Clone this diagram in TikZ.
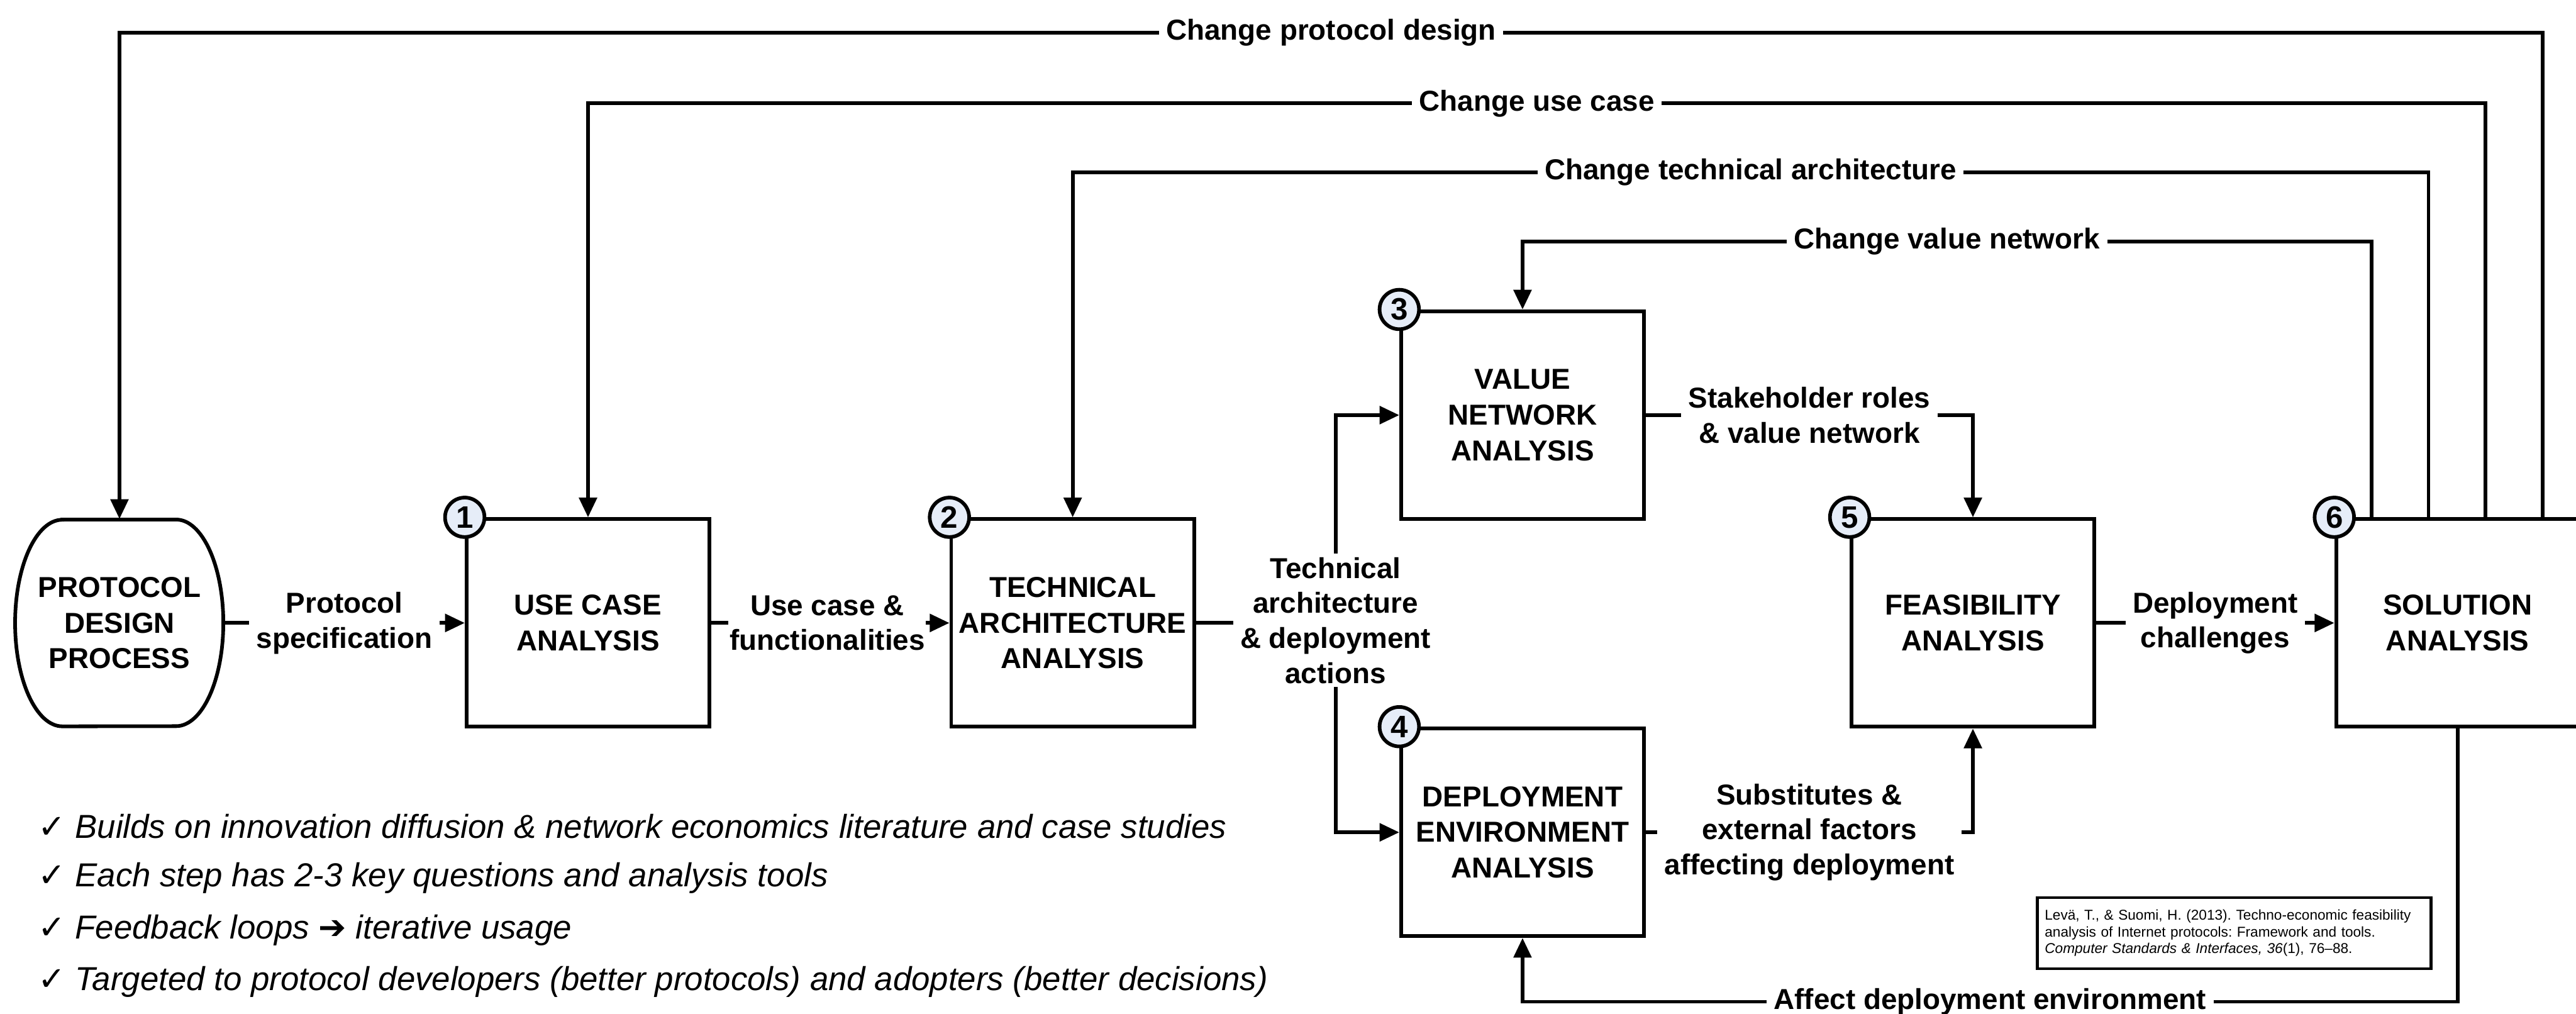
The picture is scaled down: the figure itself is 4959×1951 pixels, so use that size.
\documentclass[tikz,border=0pt]{standalone}
\usepackage{fontspec}
\setmainfont{Liberation Sans}
\newfontfamily\checkfont{DejaVu Sans}
\usetikzlibrary{arrows.meta}
\frenchspacing

\definecolor{numfill}{RGB}{230,237,248}

\tikzset{
  stagetext/.style={minimum width=2.0cm, minimum height=1.99cm, align=center, inner sep=1pt,
    font=\fontsize{7.9}{9.8}\selectfont\bfseries},
  stage/.style={stagetext, draw, line width=1pt, minimum width=2.34cm, minimum height=2cm},
  stepnum/.style={circle, draw, line width=1pt, fill=numfill, minimum size=0.38cm, inner sep=0pt,
    font=\fontsize{8.5}{9}\selectfont\bfseries},
  flow/.style={line width=1pt, -{Triangle[length=0.19cm, width=0.17cm]}},
  flowlbl/.style={fill=white, align=center, inner xsep=2pt, inner ysep=1pt,
    font=\fontsize{7.9}{9.6}\selectfont\bfseries},
  bullet/.style={anchor=west, inner sep=0pt, font=\fontsize{9.1}{11}\selectfont\itshape},
  citebox/.style={draw, line width=0.8pt, align=left, text width=3.65cm, inner xsep=0.07cm,
    minimum height=0.6cm, font=\fontsize{3.9}{4.6}\selectfont}
}

\begin{document}
\begin{tikzpicture}[x=0.005cm, y=-0.005cm]
\useasboundingbox (0,0) rectangle (4959,1951);

% Protocol design process (rounded ends)
\node[stagetext] (pdp) at (230,1199) {PROTOCOL\\DESIGN\\PROCESS};
\draw[line width=1pt] (120,1000) -- (339,1000)
  arc[start angle=90, end angle=-90, x radius=0.455cm, y radius=0.995cm] -- (120,1398)
  arc[start angle=270, end angle=90, x radius=0.455cm, y radius=0.995cm] -- cycle;

% Analysis steps
\node[stage] (uca) at (1132,1199) {USE CASE\\ANALYSIS};
\node[stage] (taa) at (2065,1199) {TECHNICAL\\ARCHITECTURE\\ANALYSIS};
\node[stage] (vna) at (2931,799) {VALUE\\NETWORK\\ANALYSIS};
\node[stage] (dea) at (2931,1602) {DEPLOYMENT\\ENVIRONMENT\\ANALYSIS};
\node[stage] (fsa) at (3798,1199) {FEASIBILITY\\ANALYSIS};
\node[stage] (sol) at (4731,1199) {SOLUTION\\ANALYSIS};

% Forward flow
\draw[flow] (pdp.east) -- node[flowlbl] {Protocol\\specification} (uca.west);
\draw[flow] (uca.east) -- node[flowlbl, inner xsep=0.3pt, xshift=-0.03cm] {Use case \&\\functionalities} (taa.west);
\coordinate (fork) at (2571,1199);
\draw[line width=1pt] (taa.east) -- (fork);
\draw[flow] (fork) |- (vna.west);
\draw[flow] (fork) |- (dea.west);
\node[flowlbl] (tdlbl) at (2571,1194) {Technical\\architecture\\\& deployment\\actions};
\draw[flow] (vna.east) -| node[flowlbl, pos=0.25] {Stakeholder roles\\\& value network} (fsa.north);
\draw[flow] (dea.east) -| node[flowlbl, pos=0.25] {Substitutes \&\\external factors\\affecting deployment} (fsa.south);
\draw[flow] (fsa.east) -- node[flowlbl] {Deployment\\challenges} (sol.west);

% Feedback loops
\coordinate (fbv) at (4565,465);
\coordinate (fbt) at (4675,332);
\coordinate (fbu) at (4785,199);
\coordinate (fbp) at (4895,63);
\coordinate (fba) at (4731,1928);
\draw[flow] (sol.north -| fbv) -- (fbv) -| node[flowlbl, pos=0.25] {Change value network} (vna.north);
\draw[flow] (sol.north -| fbt) -- (fbt) -| node[flowlbl, pos=0.25] {Change technical architecture} (taa.north);
\draw[flow] (sol.north -| fbu) -- (fbu) -| node[flowlbl, pos=0.25] {Change use case} (uca.north);
\draw[flow] (sol.north -| fbp) -- (fbp) -| node[flowlbl, pos=0.25] {Change protocol design} (pdp.north);
\draw[flow] (sol.south) -- (fba) -| node[flowlbl, pos=0.25] {Affect deployment environment} (dea.south);

% Step numbers
\foreach \b/\n in {uca/1, taa/2, vna/3, dea/4, fsa/5, sol/6}
  \node[stepnum] (num\n) at (\b.north west) {\n};

% Key points
\foreach \txt [count=\i] in {
  {Builds on innovation diffusion \& network economics literature and case studies},
  {Each step has 2-3 key questions and analysis tools},
  {Feedback loops {\checkfont\upshape ➔} iterative usage},
  {Targeted to protocol developers (better protocols) and adopters (better decisions)}}
  \node[bullet] (pt\i) at (72,1490+100*\i) {{\checkfont\upshape ✓}\ \txt};

% Reference
\node[citebox] (cite) at (4301,1796) {Levä, T., \& Suomi, H. (2013). Techno-economic feasibility\\
  analysis of Internet protocols: Framework and tools.\\
  \textit{Computer Standards \& Interfaces, 36}(1), 76–88.};
\end{tikzpicture}
\end{document}
